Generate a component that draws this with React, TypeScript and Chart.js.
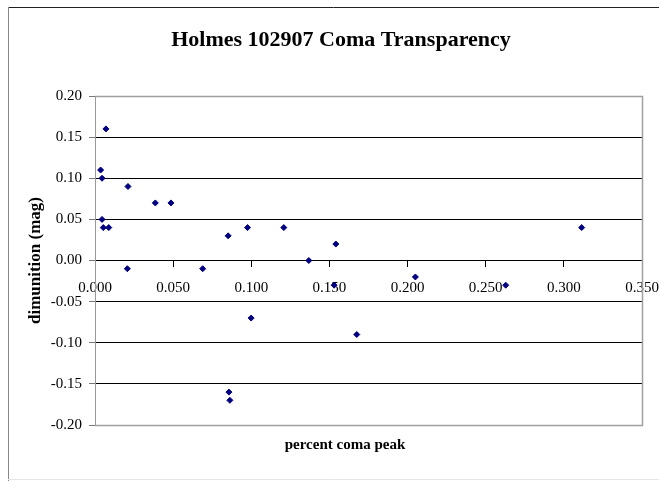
import React, { useEffect, useRef } from "react";
import { Chart, registerables } from "chart.js";

Chart.register(...registerables);

const chartTitle = "Holmes 102907 Coma Transparency";
const xAxisTitle = "percent coma peak";
const yAxisTitle = "dimunition (mag)";

const comaPeak = [
  0.0070, 0.0036, 0.0045, 0.0211, 0.0386, 0.0486, 0.0045, 0.0053, 0.0088, 0.0207,
  0.0689, 0.0852, 0.0976, 0.1208, 0.1368, 0.1541, 0.2050, 0.1530, 0.0999, 0.1675,
  0.0857, 0.0863, 0.3114, 0.2628,
];
const dimunition = [
  0.16, 0.11, 0.10, 0.09, 0.07, 0.07, 0.05, 0.04, 0.04, -0.01,
  -0.01, 0.03, 0.04, 0.04, 0.00, 0.02, -0.02, -0.03, -0.07, -0.09,
  -0.16, -0.17, 0.04, -0.03,
];

const xMin = 0;
const xMax = 0.35;
const xStep = 0.05;
const yMin = -0.2;
const yMax = 0.2;
const yStep = 0.05;

const SERIF = "'Liberation Serif', 'Times New Roman', serif";

const framePlugin = {
  id: "frame",
  beforeDraw(chart: any) {
    const ctx = chart.ctx;
    ctx.save();
    ctx.fillStyle = "#ffffff";
    ctx.fillRect(0, 0, chart.width, chart.height);
    ctx.lineWidth = 1;
    ctx.strokeStyle = "#222222";
    ctx.beginPath();
    ctx.moveTo(8, 7.5);
    ctx.lineTo(chart.width, 7.5);
    ctx.stroke();
    ctx.strokeStyle = "#888888";
    ctx.beginPath();
    ctx.moveTo(8.5, 7);
    ctx.lineTo(8.5, chart.height);
    ctx.stroke();
    ctx.strokeStyle = "#e6e6e6";
    ctx.beginPath();
    ctx.moveTo(8, chart.height - 1.5);
    ctx.lineTo(chart.width, chart.height - 1.5);
    ctx.stroke();
    ctx.restore();
  },
  beforeDatasetsDraw(chart: any) {
    const { ctx, chartArea } = chart;
    ctx.save();
    ctx.strokeStyle = "#a0a0a0";
    ctx.lineWidth = 1.5;
    ctx.beginPath();
    ctx.moveTo(chartArea.left, chartArea.top + 0.5);
    ctx.lineTo(chartArea.right + 0.5, chartArea.top + 0.5);
    ctx.lineTo(chartArea.right + 0.5, chartArea.bottom + 0.5);
    ctx.lineTo(chartArea.left, chartArea.bottom + 0.5);
    ctx.stroke();
    ctx.restore();
  },
  afterDraw(chart: any) {
    const ctx = chart.ctx;
    ctx.save();
    ctx.fillStyle = "#000000";
    ctx.textAlign = "center";
    ctx.textBaseline = "middle";
    ctx.font = `bold 22px ${SERIF}`;
    ctx.fillText(chartTitle, 341, 40);
    ctx.font = `bold 15px ${SERIF}`;
    ctx.fillText(xAxisTitle, 345, 445);
    ctx.restore();
  },
};

export default function App() {
  const canvasRef = useRef<HTMLCanvasElement | null>(null);

  useEffect(() => {
    if (!canvasRef.current) return;
    const points = comaPeak.map((x, i) => ({ x, y: dimunition[i] }));
    const chart = new Chart(canvasRef.current, {
      type: "scatter",
      data: {
        datasets: [
          {
            label: "Coma transparency",
            data: points,
            pointStyle: "rectRot",
            pointRadius: 3,
            pointBorderWidth: 1,
            backgroundColor: "#000080",
            borderColor: "#000080",
          },
        ],
      },
      options: {
        animation: false,
        responsive: false,
        maintainAspectRatio: false,
        layout: { padding: { left: 21, top: 96, right: 17, bottom: 56 } },
        plugins: {
          legend: { display: false },
          tooltip: { enabled: false },
          title: { display: false },
        },
        scales: {
          x: {
            type: "linear",
            position: { y: 0 },
            min: xMin,
            max: xMax,
            afterFit: (scale: any) => {
              scale.paddingLeft = 0;
              scale.paddingRight = 0;
            },
            ticks: {
              stepSize: xStep,
              autoSkip: false,
              maxRotation: 0,
              padding: 13,
              color: "#000000",
              font: { family: SERIF, size: 15 },
              callback: (v: any) => Number(v).toFixed(3),
            },
            grid: {
              display: true,
              drawOnChartArea: false,
              drawTicks: true,
              tickLength: 6,
              tickColor: "#000000",
            },
            border: { display: true, color: "#000000", width: 1 },
          },
          y: {
            type: "linear",
            position: "left",
            min: yMin,
            max: yMax,
            afterFit: (scale: any) => {
              scale.width = 74;
            },
            ticks: {
              stepSize: yStep,
              padding: 7,
              color: "#000000",
              font: { family: SERIF, size: 15 },
              callback: (v: any) => Number(v).toFixed(2),
            },
            grid: {
              display: true,
              drawOnChartArea: true,
              drawTicks: true,
              tickLength: 6,
              tickColor: "#777777",
              color: (c: any) => {
                const v = c.tick ? c.tick.value : 0;
                return Math.abs(Math.abs(v) - 0.2) < 1e-6 ? "#a0a0a0" : "#000000";
              },
            },
            border: { display: true, color: "#999999", width: 1 },
            title: {
              display: true,
              text: yAxisTitle,
              color: "#000000",
              font: { family: SERIF, size: 17, weight: "bold" },
              padding: { top: 4, bottom: 4 },
            },
          },
        },
      },
      plugins: [framePlugin],
    });
    return () => chart.destroy();
  }, []);

  return (
    <div style={{ position: "fixed", left: 0, top: 0, width: 659, height: 481, background: "#fff" }}>
      <canvas ref={canvasRef} width={659} height={481} style={{ width: 659, height: 481, display: "block" }} />
    </div>
  );
}
